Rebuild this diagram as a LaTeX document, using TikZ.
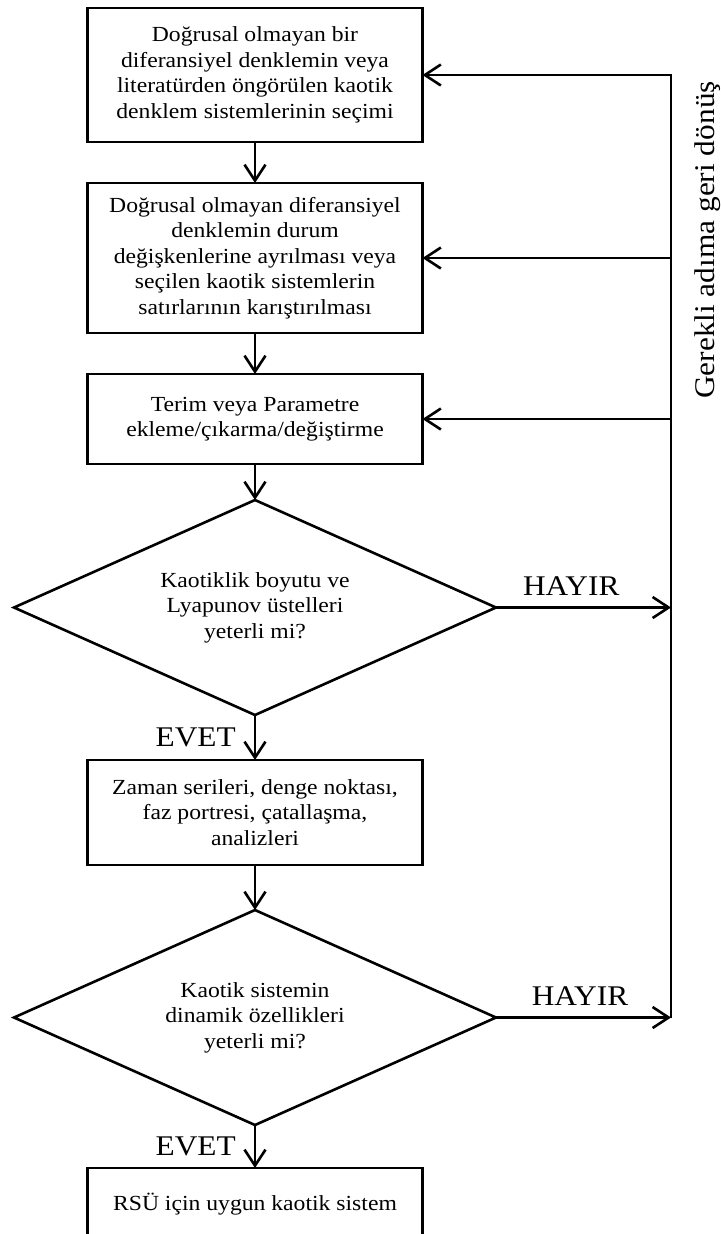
\documentclass[tikz,border=0pt]{standalone}
\usepackage{fontspec}
\setmainfont{Liberation Serif}[FakeStretch=1.1]
\usetikzlibrary{arrows.meta,positioning,shapes.geometric}

\begin{document}
\begin{tikzpicture}[x=1bp,y=1bp,>={Straight Barb[length=16bp,width=21bp]},line width=2.6bp,
    box/.style={draw,rectangle,minimum width=335bp,inner sep=0pt,outer sep=0pt,
        align=center,font=\fontsize{21.5bp}{25.5bp}\selectfont},
    decision/.style={draw,diamond,aspect=2.24,minimum width=482bp,minimum height=215bp,inner sep=0pt,
        outer sep=0pt,align=center,font=\fontsize{21.5bp}{25.5bp}\selectfont},
    answer/.style={font=\fontsize{28.5bp}{30bp}\selectfont,inner sep=0pt}]

                \useasboundingbox (0,0) rectangle (721,-1234);
                \clip (0,0) rectangle (721,-1234);

                \node[box,minimum height=134bp] (secim) at (255,-75) {Doğrusal olmayan bir\\diferansiyel denklemin veya\\literatürden öngörülen kaotik\\denklem sistemlerinin seçimi};

                \node[box,minimum height=150bp] (ayirma) [below=41bp of secim] {Doğrusal olmayan diferansiyel\\denklemin durum\\değişkenlerine ayrılması veya\\seçilen kaotik sistemlerin\\satırlarının karıştırılması};

                \node[box,minimum height=90bp] (terim) [below=41bp of ayirma] {Terim veya Parametre\\ekleme/çıkarma/değiştirme};

                \node[decision] (lyap) [below=36bp of terim] {Kaotiklik boyutu ve\\Lyapunov üstelleri\\yeterli mi?};

                \node[box,minimum height=105bp] (analiz) [below=45bp of lyap] {Zaman serileri, denge noktası,\\faz portresi, çatallaşma,\\analizleri};

                \node[decision] (dinamik) [below=45bp of analiz] {Kaotik sistemin\\dinamik özellikleri\\yeterli mi?};

                \node[box,minimum height=72bp] (rsu) [below=43bp of dinamik] {RSÜ için uygun kaotik sistem};

                % geri donus hatti
                \coordinate (rx) at (671,0);
                \coordinate (donus1) at (secim.east -| rx);
                \coordinate (donus2) at (ayirma.east -| rx);
                \coordinate (donus3) at (terim.east -| rx);
                \coordinate (hayir1) at (lyap.east -| rx);
                \coordinate (hayir2) at (dinamik.east -| rx);

                \node[answer,rotate=90] (geri) at (708,-240) {Gerekli adıma geri dönüş};

                \path[->] (secim) edge (ayirma)
                          (ayirma) edge (terim)
                          (terim) edge (lyap)
                          (lyap) edge node[answer,left=18bp] {EVET} (analiz)
                                 edge node[answer,above=11bp,pos=0.43] {HAYIR} (hayir1)
                          (analiz) edge (dinamik)
                          (dinamik) edge node[answer,left=18bp] {EVET} (rsu)
                                    edge node[answer,above=11bp,pos=0.48] {HAYIR} (hayir2)
                          (donus2) edge (ayirma)
                          (donus3) edge (terim);

                \draw[->] (hayir2) -- (donus1) -- (secim);

            \end{tikzpicture}
\end{document}
